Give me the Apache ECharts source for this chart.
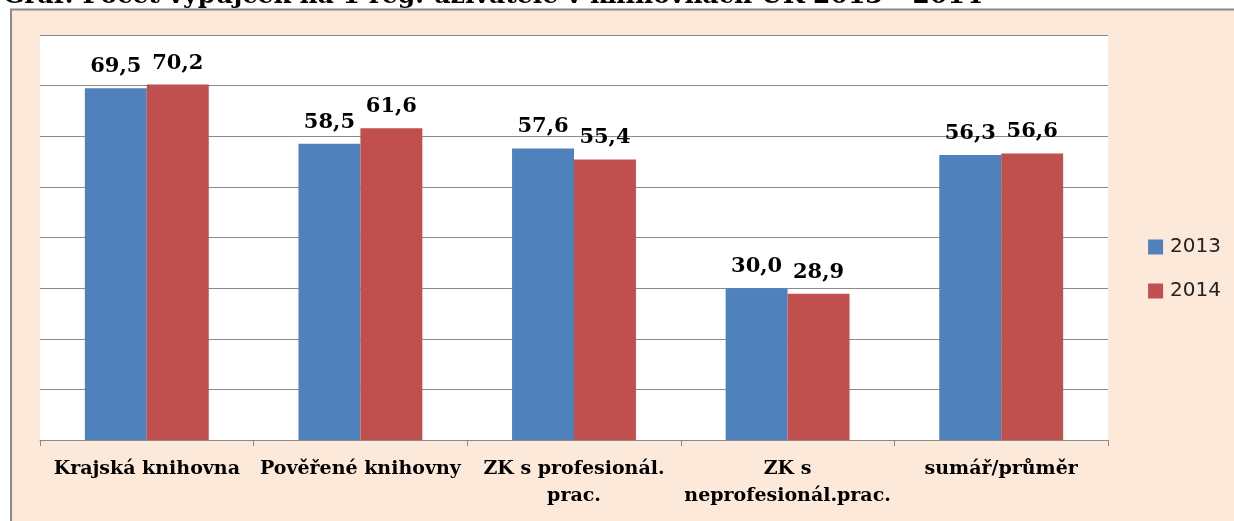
<!DOCTYPE html>
<html>
<head>
<meta charset="utf-8">
<script src="https://cdn.jsdelivr.net/npm/echarts@6/dist/echarts.min.js"></script>
<style>
html,body{margin:0;padding:0;background:#fff;}
#chart{width:1234px;height:521px;}
</style>
</head>
<body>
<div id="chart"></div>
<script>
// data
var categories = ['Krajská knihovna', 'Pověřené knihovny', 'ZK s profesionál.\nprac.', 'ZK s\nneprofesionál.prac.', 'sumář/průměr'];
var seriesNames = ['2013', '2014'];
var values2013 = [69.5, 58.5, 57.6, 30.0, 56.3];
var values2014 = [70.2, 61.6, 55.4, 28.9, 56.6];
var yMin = 0, yMax = 80, yStep = 10;

var serif = '"DejaVu Serif", "Liberation Serif", serif';
function fmt(v){ return v.toFixed(1).replace('.', ','); }

var myChart = echarts.init(document.getElementById('chart'));
var barLabel = {
    show: true,
    position: 'top',
    distance: 11,
    fontFamily: serif,
    fontWeight: 'bold',
    fontSize: 21,
    color: '#000',
    formatter: function(p){ return fmt(p.value); }
};
var option = {
    backgroundColor: '#ffffff',
    animation: false,
    graphic: [
        {
            type: 'rect',
            z: -100,
            shape: {x: 11, y: 9.5, width: 1260, height: 540},
            style: {fill: '#FDE9D9', stroke: '#8a8a8a', lineWidth: 2}
        },
        {
            // title, cut off at the top edge of the picture
            type: 'text',
            z: -90,
            x: 3,
            y: 9,
            style: {
                text: 'Graf: Počet výpůjček na 1 reg. uživatele v knihovnách ÚK 2013 – 2014',
                font: 'bold 25px ' + serif,
                fill: '#000',
                verticalAlign: 'bottom'
            }
        }
    ],
    color: ['#4F81BD', '#C0504D'],
    grid: {
        left: 40,
        right: 126,
        top: 35,
        bottom: 81,
        show: true,
        backgroundColor: '#ffffff',
        borderWidth: 0
    },
    legend: {
        orient: 'vertical',
        right: 8,
        top: 232,
        itemWidth: 15,
        itemHeight: 15,
        itemGap: 24,
        icon: 'rect',
        textStyle: {
            fontFamily: '"DejaVu Sans", sans-serif',
            fontSize: 20,
            color: '#222',
            padding: [0, 0, 0, 2]
        },
        data: seriesNames
    },
    xAxis: {
        type: 'category',
        data: categories,
        axisLine: {lineStyle: {color: '#8a8a8a', width: 1}},
        axisTick: {show: true, length: 6, lineStyle: {color: '#8a8a8a'}},
        axisLabel: {
            interval: 0,
            margin: 16,
            fontFamily: serif,
            fontWeight: 'bold',
            fontSize: 19,
            lineHeight: 27,
            color: '#000'
        }
    },
    yAxis: {
        type: 'value',
        min: yMin,
        max: yMax,
        interval: yStep,
        axisLine: {show: false},
        axisTick: {show: false},
        axisLabel: {show: false},
        splitLine: {lineStyle: {color: '#8a8a8a', width: 1}}
    },
    series: [
        {
            name: seriesNames[0],
            type: 'bar',
            data: values2013,
            barGap: '0%',
            barCategoryGap: '42%',
            label: barLabel
        },
        {
            name: seriesNames[1],
            type: 'bar',
            data: values2014,
            barGap: '0%',
            barCategoryGap: '42%',
            label: barLabel
        }
    ]
};
myChart.setOption(option);
</script>
</body>
</html>
